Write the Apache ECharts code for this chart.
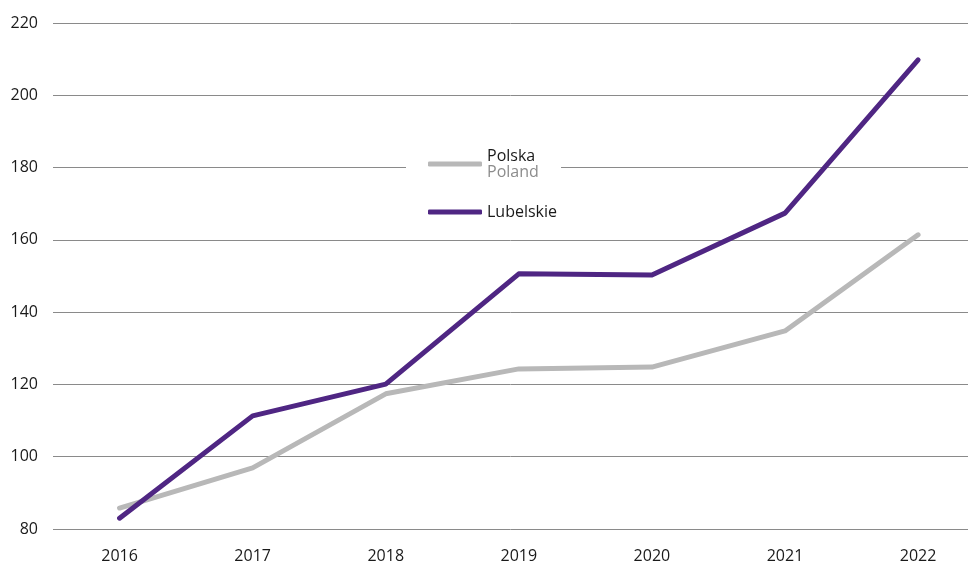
<!DOCTYPE html>
<html>
<head>
<meta charset="utf-8">
<script src="https://cdn.jsdelivr.net/npm/echarts@6/dist/echarts.min.js"></script>
<style>
  html, body { margin: 0; padding: 0; background: #fff; }
  #chart { width: 968px; height: 564px; }
</style>
</head>
<body>
<div id="chart"></div>
<script>
const years = [2016, 2017, 2018, 2019, 2020, 2021, 2022];
const polska = [85.8, 96.9, 117.4, 124.3, 124.8, 134.8, 161.4];
const lubelskie = [83.0, 111.3, 120.1, 150.6, 150.3, 167.4, 209.8];

const chart = echarts.init(document.getElementById('chart'));

const font = '"Open Sans", sans-serif';
const pair = vals => years.map((y, i) => [y, vals[i]]);

chart.setOption({
  animation: false,
  textStyle: { fontFamily: font },
  grid: { left: 53, right: 0, top: 23, bottom: 35, containLabel: false },
  legend: {
    orient: 'vertical',
    left: 406,
    top: 146,
    itemGap: 24,
    itemWidth: 54,
    itemHeight: 5,
    icon: 'roundRect',
    backgroundColor: '#fff',
    padding: [2, 4, 2, 22],
    data: ['Polska', 'Lubelskie'],
    formatter: name => name === 'Polska' ? '{a|Polska}\n{b|Poland}' : name,
    textStyle: {
      fontFamily: font,
      fontSize: 16,
      color: '#1a1a1a',
      rich: {
        a: { fontFamily: font, fontSize: 16, color: '#1a1a1a', lineHeight: 16 },
        b: { fontFamily: font, fontSize: 16, color: '#8c8c8c', lineHeight: 16 }
      }
    }
  },
  xAxis: {
    type: 'value',
    min: 2015.5,
    max: 2022.375,
    axisLine: { show: false },
    axisTick: { show: false },
    splitLine: { show: false },
    axisLabel: {
      customValues: years,
      color: '#1a1a1a',
      fontSize: 16,
      fontFamily: font,
      margin: 19,
      formatter: v => String(v)
    }
  },
  yAxis: {
    type: 'value',
    min: 80,
    max: 220,
    interval: 20,
    axisLine: { show: false },
    axisTick: { show: false },
    axisLabel: { color: '#1a1a1a', fontSize: 16, fontFamily: font, margin: 15 },
    splitLine: { lineStyle: { color: '#8a8a8a', width: 1 } }
  },
  series: [
    {
      name: 'Polska',
      type: 'line',
      data: pair(polska),
      symbol: 'none',
      itemStyle: { color: '#b8b8b8' },
      lineStyle: { color: '#b8b8b8', width: 5, cap: 'round', join: 'round' }
    },
    {
      name: 'Lubelskie',
      type: 'line',
      data: pair(lubelskie),
      symbol: 'none',
      itemStyle: { color: '#4f2683' },
      lineStyle: { color: '#4f2683', width: 5, cap: 'round', join: 'round' }
    }
  ]
});
</script>
</body>
</html>
